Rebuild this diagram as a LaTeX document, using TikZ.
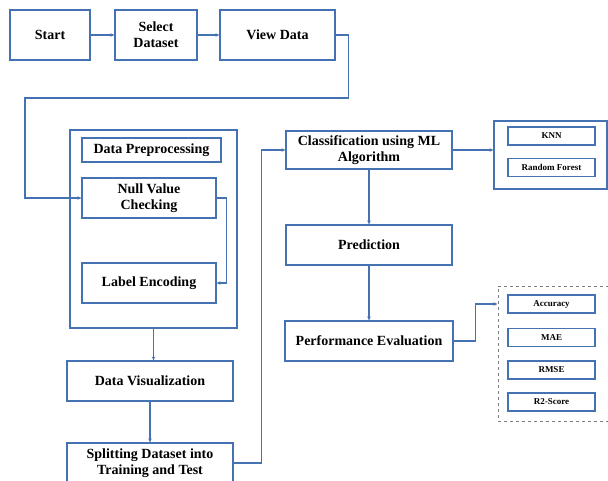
\documentclass[tikz,border=0pt]{standalone}
\usepackage{fontspec}
\setmainfont{Liberation Serif}
\usetikzlibrary{arrows.meta}
\definecolor{flowblue}{RGB}{68, 114, 178}
\definecolor{dashgray}{RGB}{125, 125, 125}

\begin{document}
\begin{tikzpicture}[x=1pt, y=-1pt,
  stepbox/.style={draw=flowblue, line width=1.2pt, minimum height=40pt, align=center, inner sep=2pt, font=\fontsize{14}{16}\selectfont\bfseries},
  smallbox/.style={draw=flowblue, line width=1.1pt, minimum width=87pt, minimum height=18pt, inner sep=1pt, font=\fontsize{9}{10}\selectfont\bfseries},
  groupbox/.style={draw=flowblue, line width=1.2pt},
  flow/.style={draw=flowblue, line width=1.2pt, -{Stealth[length=4pt, width=3.5pt]}}
]
  \useasboundingbox (0,0) rectangle (608,480);

  % top row
  \node[stepbox, minimum width=80pt, minimum height=50pt] (start) at (50,35) {Start};
  \node[stepbox, minimum width=82pt, minimum height=50pt] (select) at (156,35) {Select\\Dataset};
  \node[stepbox, minimum width=115pt, minimum height=50pt] (view) at (277.5,35) {View Data};

  % preprocessing column
  \node[groupbox, minimum width=167pt, minimum height=198pt] (prepbox) at (153.5,229) {};
  \node[stepbox, minimum width=139pt, minimum height=24pt] (prep) at (151.5,150) {Data Preprocessing};
  \node[stepbox, minimum width=134pt] (null) at (149,198) {Null Value\\Checking};
  \node[stepbox, minimum width=134pt] (label) at (149,283) {Label Encoding};
  \node[stepbox, minimum width=166pt] (vis) at (150,381) {Data Visualization};
  \node[stepbox, minimum width=166pt] (split) at (150,463) {Splitting Dataset into\\Training and Test};

  % model column
  \node[stepbox, minimum width=166pt, minimum height=38pt] (classify) at (369,150) {Classification using ML\\Algorithm};
  \node[stepbox, minimum width=166pt] (predict) at (369,245) {Prediction};
  \node[stepbox, minimum width=168pt] (perf) at (369,341) {Performance Evaluation};

  % algorithms
  \node[groupbox, minimum width=113pt, minimum height=68pt] (algobox) at (550.5,155) {};
  \node[smallbox] (knn) at (551.5,136) {KNN};
  \node[smallbox] (rf) at (551.5,167.5) {Random Forest};

  % metrics
  \node[draw=dashgray, dashed, line width=1pt, minimum width=114pt, minimum height=135pt] (metricbox) at (555,353.5) {};
  \node[smallbox] (acc) at (551.5,304) {Accuracy};
  \node[smallbox] (mae) at (551.5,337.5) {MAE};
  \node[smallbox] (rmse) at (551.5,370) {RMSE};
  \node[smallbox] (rtwo) at (551.5,402) {R2-Score};

  \draw[flow] (start) -- (select);
  \draw[flow] (select) -- (view);
  \draw[flow] (view.east) -- ++(13,0) |- (25,98) |- (null.west);
  \draw[flow] (null.east) -- ++(10,0) |- (label.east);
  \draw[flow] (prepbox.south) -- (prepbox.south |- vis.north);
  \draw[flow] (vis) -- (split);
  \draw[flow] (split.east) -- ++(28,0) |- (classify.west);
  \draw[flow] (classify.east) -- (algobox.west |- classify.east);
  \draw[flow] (classify) -- (predict);
  \draw[flow] (predict) -- (perf);
  \draw[flow] (perf.east) -- ++(22,0) |- (metricbox.west |- acc);
\end{tikzpicture}
\end{document}
